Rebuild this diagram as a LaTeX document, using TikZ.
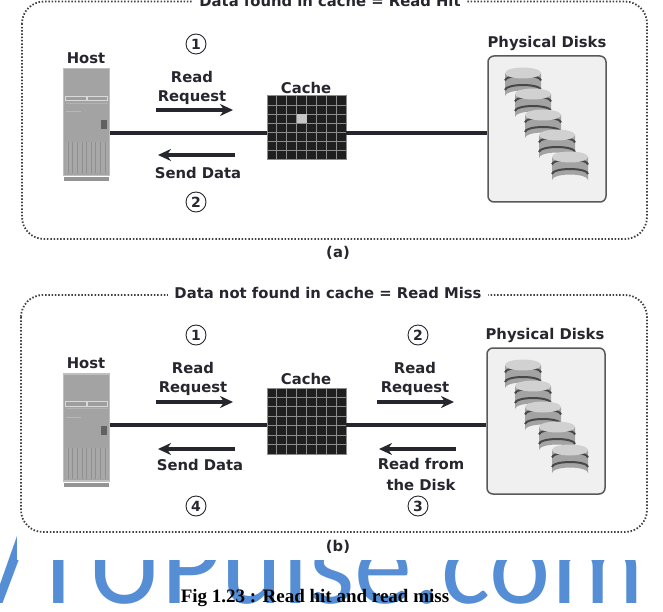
\documentclass[tikz,border=0pt]{standalone}
\usepackage{fontspec}
\setmainfont{DejaVu Sans}
\newfontfamily\wmfont{Carlito}
\newfontfamily\capfont{Liberation Serif}
\usetikzlibrary{arrows.meta}
\definecolor{wm}{HTML}{558ED5}
\definecolor{ink}{HTML}{26262E}
\tikzset{
  lbl/.style={font=\fontsize{14.8}{16}\selectfont\bfseries,text=ink,inner sep=0pt,align=center},
  num/.style={circle,draw=ink,line width=0.9pt,minimum size=20pt,inner sep=0pt,font=\fontsize{14}{16}\selectfont\bfseries,text=ink},
  frame/.style={draw=black!75,line width=1.8pt,dash pattern=on 1.5pt off 1.8pt,rounded corners=22pt},
  titlebox/.style={fill=white,inner xsep=6pt,inner ysep=1pt,font=\fontsize{14.8}{16}\selectfont\bfseries,text=ink},
  link/.style={draw=ink,line width=3.2pt},
  flow/.style={draw=ink,line width=3.2pt,-{Stealth[length=13pt,width=12pt]}},
  diskpanel/.style={draw=black!65,fill=black!6,line width=1.5pt,rounded corners=6pt,inner sep=0pt,minimum width=118pt,minimum height=146pt},
}
\newcommand{\hostart}[1]{%
  \begin{scope}[shift={(#1)}]
    \fill[black!25] (-24,-56.5) rectangle (23.5,52);
    \fill[black!36] (-22.5,-55) rectangle (22,50.5);
    \fill[black!15] (-22,-28.5) rectangle (21.5,-23);
    \fill[black!38] (-21,-27.5) rectangle (-1,-24);
    \fill[black!38] (1,-27.5) rectangle (20.5,-24);
    \fill[black!30] (-21,-21.5) rectangle (21,-20.5);
    \fill[black!28] (-21,-13) rectangle (-6,-12);
    \fill[black!62] (14,-4) rectangle (20,5);
    \fill[black!34] (-21,18) rectangle (21,49);
    \draw[black!44,line width=0.6pt,step=4.6] (-20.7,18) grid (20.7,49);
    \fill[black!42] (-22.5,53) rectangle (22,57);
  \end{scope}}
\newcommand{\diskart}[1]{%
  \begin{scope}[shift={(#1)}]
    \fill[black!36] (-18,0) -- (-18,23) arc[x radius=18,y radius=5.5,start angle=180,end angle=360] -- (18,0) -- cycle;
    \draw[black!72,line width=2pt] (-18,7.5) arc[x radius=18,y radius=5,start angle=180,end angle=360];
    \draw[black!72,line width=2pt] (-18,17) arc[x radius=18,y radius=5,start angle=180,end angle=360];
    \fill[black!18] (0,0) ellipse[x radius=18,y radius=5.5];
  \end{scope}}
\newcommand{\cacheart}[3]{%
  \begin{scope}[shift={(#1)}]
    \fill[black!88] (0,0) rectangle (79,#2);
    \foreach \i in {1,...,7} \draw[black!45,line width=1pt] (\i*9.875,0) -- (\i*9.875,#2);
    \foreach \i in {1,...,6} \draw[black!45,line width=1pt] (0,\i*#2/7) -- (79,\i*#2/7);
    \draw[black!45,line width=1pt] (0,0) rectangle (79,#2);
    #3
  \end{scope}}
\begin{document}
\begin{tikzpicture}[x=1pt,y=-1pt]
\useasboundingbox (0,0) rectangle (663,612);
\fill[white] (0,0) rectangle (663,612);
% watermark
\begin{scope}
  \clip (0,560) rectangle (663,612) (0,527) rectangle (16,560);
  \node[anchor=base west,inner sep=0pt,text=wm,font=\fontsize{116}{116}\selectfont\wmfont] (wmark) at (-35,603) {VTUPulse.com};
\end{scope}
% panel a
\begin{scope}
  \clip (0,0) rectangle (663,612);
  \draw[frame] (22,1.5) rectangle (647,239);
  \node[titlebox] (ta) at (330,1) {Data found in cache = Read Hit};
\end{scope}
\node[inner sep=0pt,minimum width=47pt,minimum height=113pt] (hostA) at (86.5,124.5) {};
\hostart{86.5,124.5}
\node[lbl] (hostAl) at (86,58) {Host};
\node[inner sep=0pt,minimum width=79pt,minimum height=64pt] (cacheA) at (306.5,128) {};
\cacheart{267,96}{64}{\fill[black!22] (29.6,18.3) rectangle (39.5,27.4);}
\node[lbl] (cacheAl) at (306,88) {Cache};
\node[diskpanel] (diskA) at (547,129) {};
\diskart{523,73} \diskart{533,94} \diskart{543,115} \diskart{557,135} \diskart{570,157}
\node[lbl] (diskAl) at (547,43) {Physical Disks};
\coordinate (la) at (0,133);
\draw[link] (hostA.east |- la) -- (cacheA.west |- la);
\draw[link] (cacheA.east |- la) -- (diskA.west |- la);
\coordinate (a1s) at (156,110); \coordinate (a1e) at (233,110);
\coordinate (a2s) at (235,155); \coordinate (a2e) at (158,155);
\draw[flow] (a1s) -- (a1e);
\draw[flow] (a2s) -- (a2e);
\node[lbl] (ra) at (192,77) {Read};
\node[lbl] (rb) at (192,98) {Request};
\node[lbl] (sd) at (198,173) {Send Data};
\node[num] (n1) at (196,44) {1};
\node[num] (n2) at (196,202) {2};
\node[lbl] (la2) at (338,253) {(a)};
% panel b
\draw[frame] (21,295) rectangle (647,532);
\node[titlebox] (tb) at (328,293) {Data not found in cache = Read Miss};
\node[inner sep=0pt,minimum width=47pt,minimum height=113pt] (hostB) at (86.5,429.5) {};
\hostart{86.5,429.5}
\node[lbl] (hostBl) at (86,363) {Host};
\node[inner sep=0pt,minimum width=79pt,minimum height=66pt] (cacheB) at (306.5,421) {};
\cacheart{267,388}{66}{}
\node[lbl] (cacheBl) at (306,379) {Cache};
\node[diskpanel] (diskB) at (546,421) {};
\diskart{523,365} \diskart{533,386} \diskart{543,407} \diskart{557,427} \diskart{570,450}
\node[lbl] (diskBl) at (545,335) {Physical Disks};
\coordinate (lb) at (0,425);
\draw[link] (hostB.east |- lb) -- (cacheB.west |- lb);
\draw[link] (cacheB.east |- lb) -- (diskB.west |- lb);
\coordinate (b1s) at (156,402); \coordinate (b1e) at (233,402);
\coordinate (b2s) at (235,449); \coordinate (b2e) at (158,449);
\coordinate (b3s) at (377,402); \coordinate (b3e) at (454,402);
\coordinate (b4s) at (456,449); \coordinate (b4e) at (379,449);
\draw[flow] (b1s) -- (b1e);
\draw[flow] (b2s) -- (b2e);
\draw[flow] (b3s) -- (b3e);
\draw[flow] (b4s) -- (b4e);
\node[lbl] (rc) at (193,368) {Read};
\node[lbl] (rd) at (193,389) {Request};
\node[lbl] (re) at (415,368) {Read};
\node[lbl] (rf) at (415,389) {Request};
\node[lbl] (sd2) at (200,465) {Send Data};
\node[lbl] (rg) at (421,464) {Read from};
\node[lbl] (rh) at (421,485) {the Disk};
\node[num] (m1) at (196,335) {1};
\node[num] (m2) at (418,335) {2};
\node[num] (m4) at (196,506) {4};
\node[num] (m3) at (418,506) {3};
\node[lbl] (lb2) at (338,547) {(b)};
\node[inner sep=0pt,font=\fontsize{19}{20}\selectfont\capfont\bfseries,text=black] (cap) at (315,598) {Fig 1.23 : Read hit and read miss};
\end{tikzpicture}
\end{document}
